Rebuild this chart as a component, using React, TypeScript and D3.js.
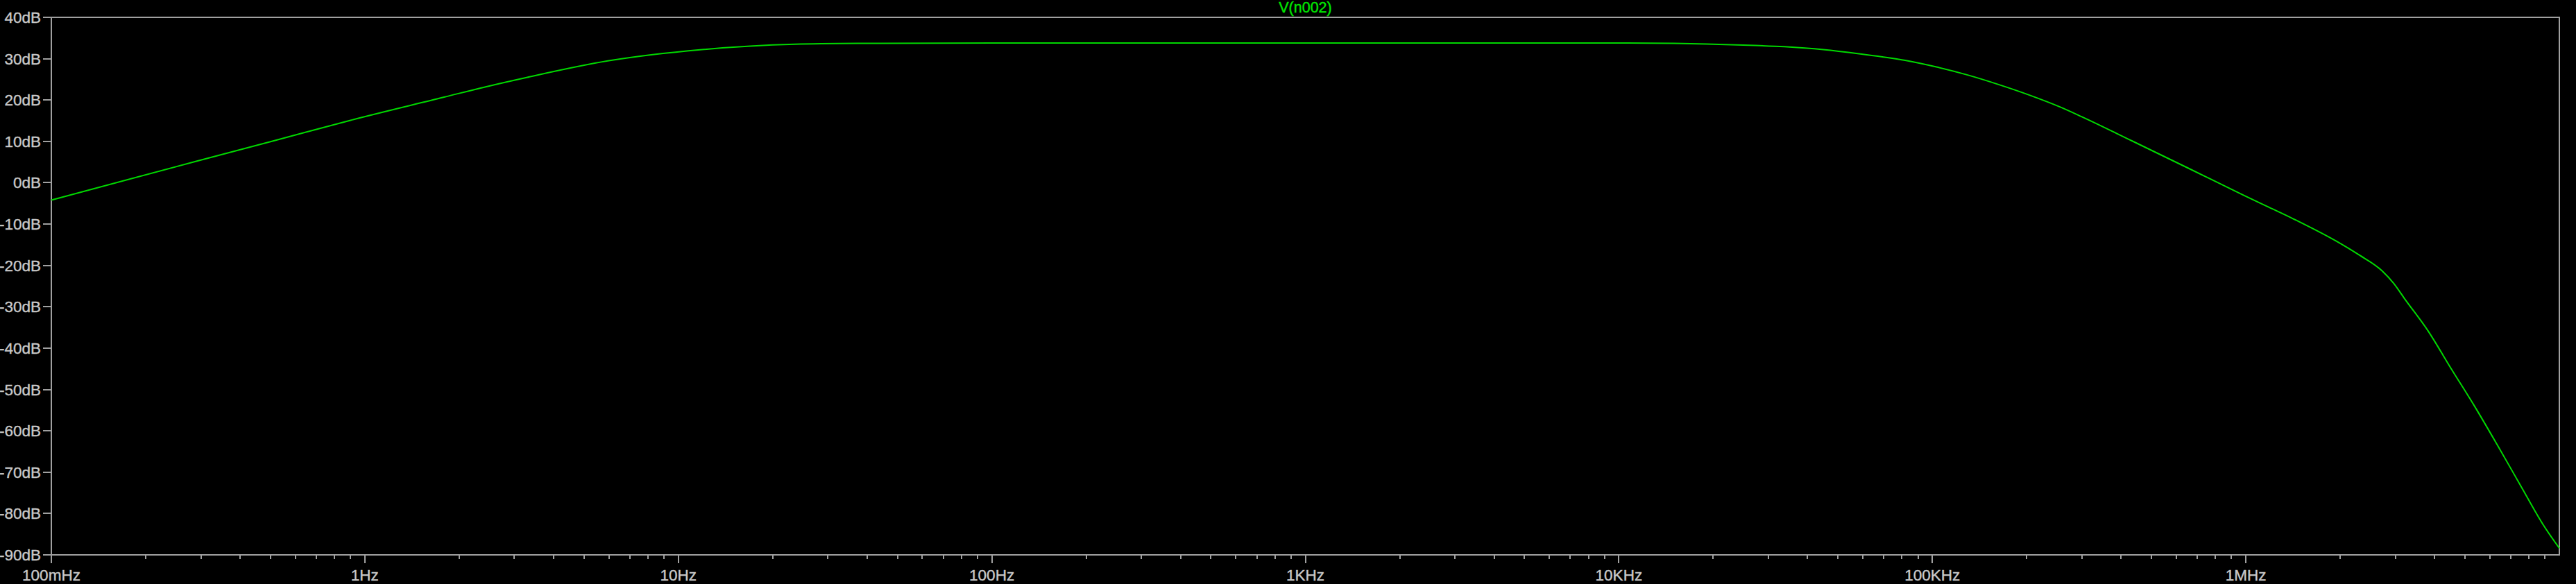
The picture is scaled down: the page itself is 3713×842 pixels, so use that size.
import React from "react";
import * as d3 from "d3";

// frequency (Hz) / magnitude (dB)
const freqs = [
  0.1, 0.29, 0.51, 0.9, 1.79, 2.43, 3.3, 6.0, 11.9, 23.5, 37.3, 100, 1e3, 1e4,
  1.5e4, 1.91e4, 2.72e4, 3.37e4, 4.49e4, 5.83e4, 8.19e4, 1.03e5, 1.29e5, 1.62e5,
  2.04e5, 2.56e5, 2.99e5, 4.34e5, 6.52e5, 9.8e5, 1.16e6, 1.45e6, 1.93e6, 2.29e6,
  2.72e6, 2.96e6, 3.22e6, 3.81e6, 4.52e6, 5.36e6, 6.35e6, 7.53e6, 8.93e6, 1e7,
];
const gainDb = [
  -4.2, 5.2, 10.1, 15.1, 20.7, 23.2, 25.5, 29.5, 32.2, 33.5, 33.7, 33.8, 33.8, 33.8,
  33.7, 33.55, 33.2, 32.9, 32.2, 31.2, 29.6, 28.0, 26.1, 23.8,
  21.2, 18.3, 16.0, 10.1, 3.6, -2.95, -5.6, -9.1, -14.0, -17.4,
  -21.3, -24.3, -28.2, -35.8, -45.0, -54.0, -63.5, -73.3, -83.0, -88.4,
];

const xTickValues = [0.1, 1, 10, 100, 1e3, 1e4, 1e5, 1e6];
const xTickLabels = ["100mHz", "1Hz", "10Hz", "100Hz", "1KHz", "10KHz", "100KHz", "1MHz"];
const yTickValues = [40, 30, 20, 10, 0, -10, -20, -30, -40, -50, -60, -70, -80, -90];
const yTickLabels = yTickValues.map(v => `${v}dB`);
const traceName = "V(n002)";

const W = 3713;
const H = 842;
const left = 74;
const right = 3689;
const top = 25;
const bottom = 800;

const axisColor = "#a0a0a0";
const textColor = "#c8c8c8";
const traceColor = "#00d800";
const font = "'Liberation Sans', Arial, sans-serif";

const App = () => {
  const x = d3.scaleLog().domain([0.1, 1e7]).range([left, right]);
  const y = d3.scaleLinear().domain([-90, 40]).range([bottom, top]);

  const pts: [number, number][] = freqs.map((f, i) => [f, gainDb[i]]);
  const line = d3
    .line<[number, number]>()
    .x(d => x(d[0]))
    .y(d => y(d[1]))
    .curve(d3.curveMonotoneX);

  const minor: number[] = [];
  for (let dec = 0.1; dec < 1e7 * 0.99; dec *= 10) {
    for (let k = 2; k <= 9; k++) minor.push(dec * k);
  }

  return (
    <svg
      width={W}
      height={H}
      style={{ position: "fixed", left: 0, top: 0, background: "#000" }}
    >
      <rect x={0} y={0} width={W} height={H} fill="#000" />
      <text
        x={(left + right) / 2}
        y={18}
        fill="#00e400"
        stroke="#00e400"
        strokeWidth={0.4}
        fontFamily={font}
        fontSize={21.5}
        textAnchor="middle"
      >
        {traceName}
      </text>

      <g shapeRendering="crispEdges" stroke={axisColor} strokeWidth={2} fill="none">
        <rect x={left} y={top} width={right - left} height={bottom - top} />
        {yTickValues.map(v => (
          <line key={"yt" + v} x1={left - 12} x2={left} y1={y(v)} y2={y(v)} />
        ))}
        {xTickValues.map(v => (
          <line key={"xt" + v} x1={x(v)} x2={x(v)} y1={bottom} y2={bottom + 12} />
        ))}
        {minor.map(v => (
          <line key={"mt" + v} x1={x(v)} x2={x(v)} y1={bottom} y2={bottom + 6} />
        ))}
      </g>

      <g fill={textColor} stroke={textColor} strokeWidth={0.4} fontFamily={font} fontSize={22.5}>
        {yTickValues.map((v, i) => (
          <text key={"yl" + v} x={59} y={y(v) + 8} textAnchor="end">
            {yTickLabels[i]}
          </text>
        ))}
        {xTickValues.map((v, i) => (
          <text key={"xl" + v} x={x(v)} y={836.5} textAnchor="middle">
            {xTickLabels[i]}
          </text>
        ))}
      </g>

      <path d={line(pts) || ""} fill="none" stroke={traceColor} strokeWidth={2} />
    </svg>
  );
};

export default App;
